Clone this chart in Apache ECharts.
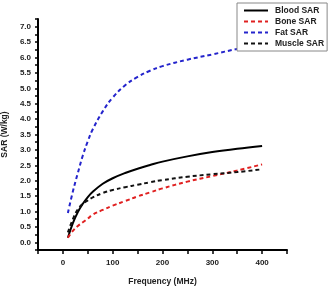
<!DOCTYPE html>
<html>
<head>
<meta charset="utf-8">
<script src="https://cdn.jsdelivr.net/npm/echarts@6/dist/echarts.min.js"></script>
<style>
    html, body {margin: 0; padding: 0; background: #fff;}
    #chart {width: 330px; height: 293px;}
</style>
</head>
<body>
<div id="chart"></div>
<script>
var freq = [10, 20, 30, 40, 50, 60, 80, 100, 125, 150, 175, 200, 250, 300, 350, 400];
var bloodSar = [0.15, 0.62, 0.98, 1.25, 1.47, 1.64, 1.9, 2.08, 2.25, 2.39, 2.51, 2.62, 2.79, 2.93, 3.04, 3.13];
var boneSar = [0.15, 0.37, 0.53, 0.65, 0.77, 0.9, 1.05, 1.19, 1.34, 1.49, 1.62, 1.75, 1.97, 2.15, 2.33, 2.53];
var fatSar = [0.95, 1.65, 2.25, 2.82, 3.28, 3.67, 4.25, 4.7, 5.1, 5.37, 5.57, 5.72, 5.93, 6.1, 6.28, 6.45];
var muscleSar = [0.32, 0.75, 1.07, 1.25, 1.36, 1.46, 1.6, 1.7, 1.79, 1.87, 1.95, 2.02, 2.13, 2.21, 2.28, 2.37];
var seriesNames = ['Blood SAR', 'Bone SAR', 'Fat SAR', 'Muscle SAR'];

var myChart = echarts.init(document.getElementById('chart'));

function pairs(values) {
    return values.map(function (v, i) {
        return [freq[i], v];
    });
}

function makeSeries(name, values, color, dashed) {
    return {
        name: name,
        type: 'line',
        smooth: 0.4,
        showSymbol: false,
        symbol: 'none',
        lineStyle: {color: color, width: 2, type: dashed ? [4, 3] : 'solid'},
        itemStyle: {color: color},
        data: pairs(values)
    };
}

var font = '"Liberation Sans", Arial, sans-serif';

var option = {
    animation: false,
    grid: {left: 38, right: 43, top: 19, bottom: 43, outerBoundsMode: 'none', containLabel: false},
    legend: {
        data: seriesNames,
        orient: 'vertical',
        left: 237,
        top: 3,
        padding: [3, 3, 3, 6],
        itemGap: 2,
        itemWidth: 24,
        itemHeight: 10,
        borderColor: '#888',
        borderWidth: 1,
        borderRadius: 0,
        backgroundColor: '#fff',
        z: 10,
        itemStyle: {opacity: 0},
        textStyle: {fontFamily: font, fontWeight: 'bold', fontSize: 8.5, color: '#222', padding: [0, 0, 0, 2]}
    },
    xAxis: {
        type: 'value',
        min: -50,
        max: 450,
        interval: 50,
        name: 'Frequency (MHz)',
        nameLocation: 'middle',
        nameGap: 27,
        nameTextStyle: {fontFamily: font, fontWeight: 'bold', fontSize: 8.5, color: '#222'},
        splitLine: {show: false},
        axisLine: {onZero: false, lineStyle: {color: '#000', width: 2}},
        axisTick: {length: 4, lineStyle: {color: '#000', width: 1.5}},
        axisLabel: {
            margin: 9,
            fontFamily: font,
            fontWeight: 'bold',
            fontSize: 8,
            color: '#222',
            formatter: function (v) {
                return (v >= 0 && v <= 400 && v % 100 === 0) ? String(v) : '';
            }
        }
    },
    yAxis: {
        type: 'value',
        min: -0.25,
        max: 7.25,
        interval: 0.25,
        name: 'SAR (W/kg)',
        nameLocation: 'middle',
        nameGap: 25,
        nameTextStyle: {fontFamily: font, fontWeight: 'bold', fontSize: 8.5, color: '#222'},
        splitLine: {show: false},
        axisLine: {onZero: false, lineStyle: {color: '#000', width: 2}},
        axisTick: {length: 3, lineStyle: {color: '#000', width: 1.5}},
        axisLabel: {
            margin: 7,
            fontFamily: font,
            fontWeight: 'bold',
            fontSize: 8,
            color: '#222',
            formatter: function (v) {
                var r = Math.round(v * 100) / 100;
                if (r < 0 || r > 7) return '';
                return (Math.round(r * 100) % 50 === 0) ? r.toFixed(1) : '';
            }
        }
    },
    series: [
        makeSeries(seriesNames[0], bloodSar, '#000', false),
        makeSeries(seriesNames[1], boneSar, '#e02020', true),
        makeSeries(seriesNames[2], fatSar, '#2424cc', true),
        makeSeries(seriesNames[3], muscleSar, '#111', true)
    ]
};

myChart.setOption(option);
</script>
</body>
</html>
